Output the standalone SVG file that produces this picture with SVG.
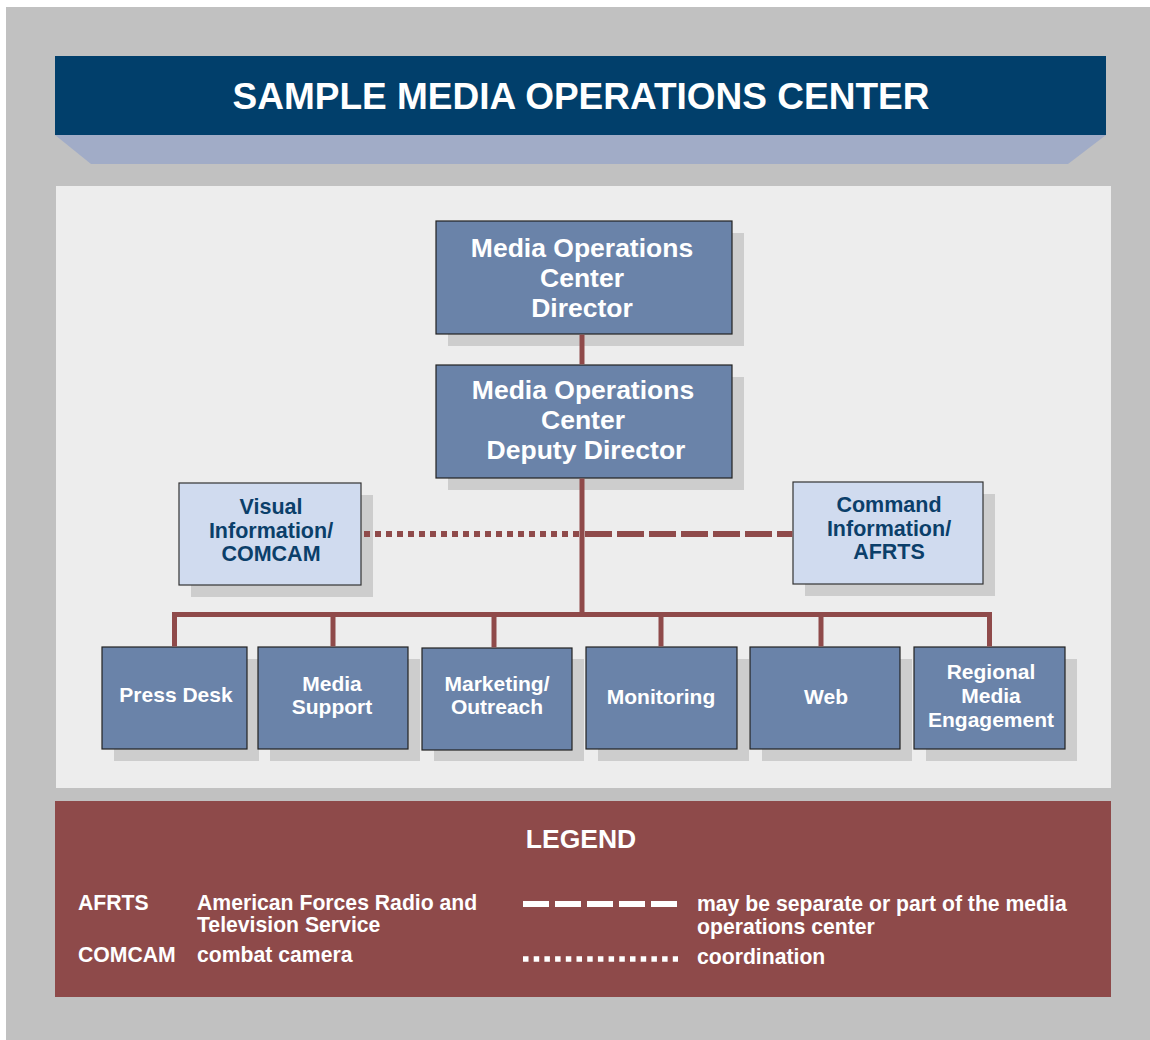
<svg xmlns="http://www.w3.org/2000/svg" width="1150" height="1040" viewBox="0 0 1150 1040">
<style>
.shadow{fill:#cdcdcd}
.dark{fill:#6a83a9;stroke:#222;stroke-width:1.2}
.light{fill:#d0dbef;stroke:#333;stroke-width:1.2}
.tw{font-family:"Liberation Sans",Arial,sans-serif;font-weight:bold;fill:#ffffff;text-anchor:middle}
.tb{font-family:"Liberation Sans",Arial,sans-serif;font-weight:bold;fill:#0b3f6a;text-anchor:middle}
.lg{font-family:"Liberation Sans",Arial,sans-serif;font-weight:bold;fill:#ffffff;font-size:21.2px}
.conn{stroke:#8f4a4a;stroke-width:5;fill:none}
</style>
<rect x="0" y="0" width="1150" height="1040" fill="#ffffff"/>
<rect x="6" y="7" width="1144" height="1033" fill="#c1c1c1"/>
<g id="title">
<polygon points="55,135 1106,135 1068,164 91,164" fill="#a1acc7"/>
<rect x="55" y="56" width="1051" height="79" fill="#013f6b"/>
<text x="581" y="109" class="tw" font-size="37">SAMPLE MEDIA OPERATIONS CENTER</text>
</g>
<rect x="56" y="186" width="1055" height="602" fill="#ededed"/>
<g id="director">
<rect x="448" y="233" width="296" height="113" class="shadow"/>
<rect x="436" y="221" width="296" height="113" class="dark"/>
<text class="tw" font-size="26.5"><tspan x="582" y="257">Media Operations</tspan><tspan x="582" y="287">Center</tspan><tspan x="582" y="317">Director</tspan></text>
</g>
<g id="deputy">
<rect x="448" y="377" width="296" height="113" class="shadow"/>
<rect x="436" y="365" width="296" height="113" class="dark"/>
<text class="tw" font-size="26.5"><tspan x="583" y="399">Media Operations</tspan><tspan x="583" y="429">Center</tspan><tspan x="586" y="459">Deputy Director</tspan></text>
</g>
<g id="visual">
<rect x="191" y="495" width="182" height="102" class="shadow"/>
<rect x="179" y="483" width="182" height="102" class="light"/>
<text class="tb" font-size="21.5"><tspan x="271" y="514">Visual</tspan><tspan x="271" y="538">Information/</tspan><tspan x="271" y="561">COMCAM</tspan></text>
</g>
<g id="command">
<rect x="805" y="494" width="190" height="102" class="shadow"/>
<rect x="793" y="482" width="190" height="102" class="light"/>
<text class="tb" font-size="21.5"><tspan x="889" y="512">Command</tspan><tspan x="889" y="536">Information/</tspan><tspan x="889" y="559">AFRTS</tspan></text>
</g>
<g id="press">
<rect x="114" y="659" width="145" height="102" class="shadow"/>
<rect x="102" y="647" width="145" height="102" class="dark"/>
<text class="tw" font-size="21" x="176" y="702">Press Desk</text>
</g>
<g id="support">
<rect x="270" y="659" width="150" height="102" class="shadow"/>
<rect x="258" y="647" width="150" height="102" class="dark"/>
<text class="tw" font-size="21"><tspan x="332" y="691">Media</tspan><tspan x="332" y="714">Support</tspan></text>
</g>
<g id="marketing">
<rect x="434" y="659" width="150" height="102" class="shadow"/>
<rect x="422" y="648" width="150" height="102" class="dark"/>
<text class="tw" font-size="21"><tspan x="497" y="691">Marketing/</tspan><tspan x="497" y="714">Outreach</tspan></text>
</g>
<g id="monitoring">
<rect x="598" y="659" width="151" height="102" class="shadow"/>
<rect x="586" y="647" width="151" height="102" class="dark"/>
<text class="tw" font-size="21" x="661" y="704">Monitoring</text>
</g>
<g id="web">
<rect x="762" y="659" width="150" height="102" class="shadow"/>
<rect x="750" y="647" width="150" height="102" class="dark"/>
<text class="tw" font-size="21" x="826" y="704">Web</text>
</g>
<g id="regional">
<rect x="926" y="659" width="151" height="102" class="shadow"/>
<rect x="914" y="647" width="151" height="102" class="dark"/>
<text class="tw" font-size="21"><tspan x="991" y="679">Regional</tspan><tspan x="991" y="703">Media</tspan><tspan x="991" y="727">Engagement</tspan></text>
</g>
<g id="connectors">
<line x1="582" y1="334.6" x2="582" y2="364.4" class="conn"/>
<polyline points="582,478.6 582,614.5" class="conn"/>
<polyline points="174.5,646.4 174.5,614.5 989.5,614.5 989.5,646.4" class="conn"/>
<line x1="333" y1="614" x2="333" y2="646.4" class="conn"/>
<line x1="494" y1="614" x2="494" y2="647.4" class="conn"/>
<line x1="661" y1="614" x2="661" y2="646.4" class="conn"/>
<line x1="821" y1="614" x2="821" y2="646.4" class="conn"/>
<line x1="364" y1="534" x2="580" y2="534" stroke="#8f4a4a" stroke-width="6" stroke-dasharray="6,5"/>
<line x1="585" y1="534" x2="792.4" y2="534" stroke="#8f4a4a" stroke-width="6" stroke-dasharray="27,5"/>
</g>
<g id="legend">
<rect x="55" y="801" width="1056" height="196" fill="#8e4a4a"/>
<text class="tw" font-size="26.5" x="581" y="848">LEGEND</text>
<text class="lg" x="78" y="910">AFRTS</text>
<text class="lg"><tspan x="197" y="910">American Forces Radio and</tspan><tspan x="197" y="932">Television Service</tspan></text>
<text class="lg" x="78" y="962">COMCAM</text>
<text class="lg" x="197" y="962">combat camera</text>
<line x1="523" y1="904" x2="678" y2="904" stroke="#ffffff" stroke-width="6" stroke-dasharray="26,6"/>
<line x1="523" y1="959" x2="678" y2="959" stroke="#ffffff" stroke-width="5.5" stroke-dasharray="5.5,5.2"/>
<text class="lg"><tspan x="697" y="911">may be separate or part of the media</tspan><tspan x="697" y="934">operations center</tspan></text>
<text class="lg" x="697" y="964">coordination</text>
</g>
</svg>
